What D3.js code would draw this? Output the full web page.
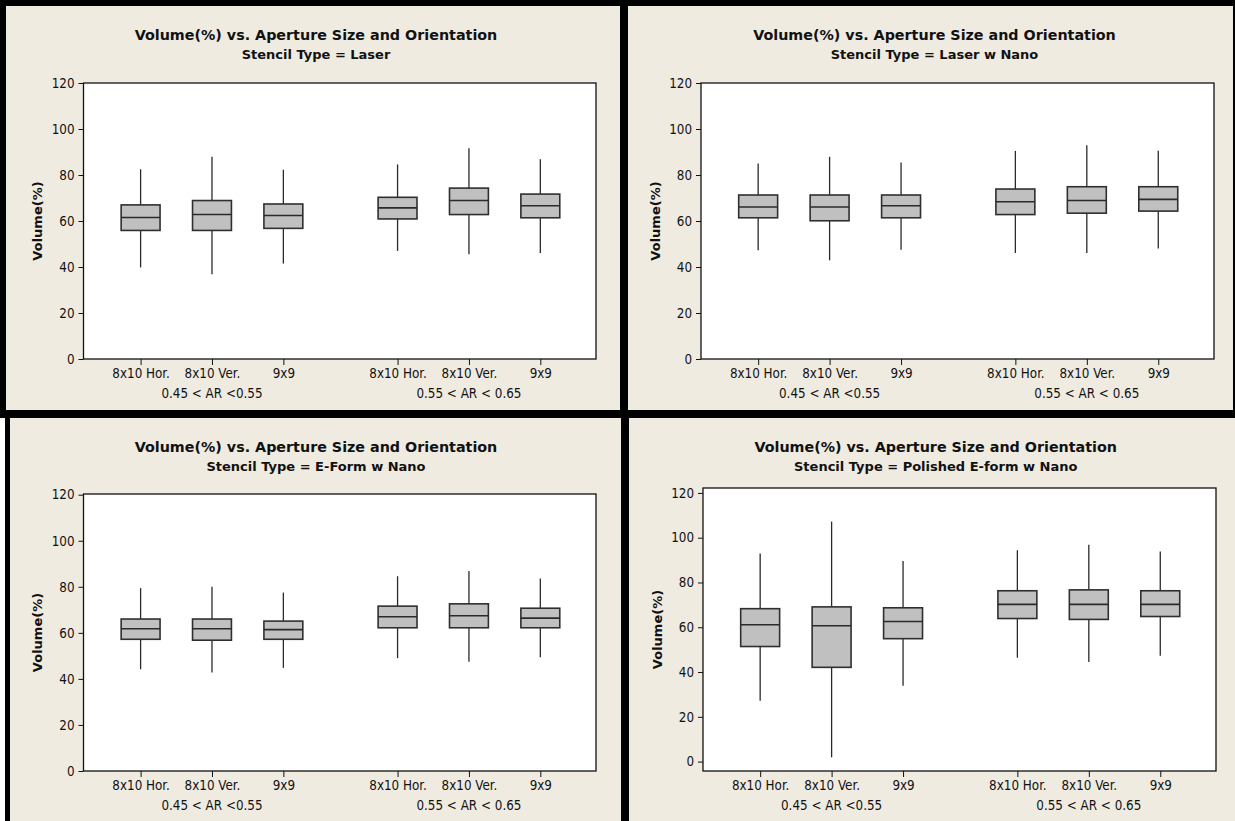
<!DOCTYPE html>
<html>
<head>
<meta charset="utf-8">
<script src="https://cdn.jsdelivr.net/npm/d3@7"></script>
<style>
  html, body { margin: 0; padding: 0; background: #fff; }
  svg { display: block; }
  text { font-family: "DejaVu Sans Condensed", "DejaVu Sans", sans-serif; font-stretch: condensed; fill: #111; }
  text.bold { font-family: "DejaVu Sans", sans-serif; font-stretch: normal; font-weight: bold; }
</style>
</head>
<body>
<div id="chart"></div>
<script>
// data
const stencilTypes = ["Laser", "Laser w Nano", "E-Form w Nano", "Polished E-form w Nano"];
const arGroups = ["0.45 < AR <0.55", "0.55 < AR < 0.65"];
const apertures = ["8x10 Hor.", "8x10 Ver.", "9x9"];
const yTicks = [0, 20, 40, 60, 80, 100, 120];

// one row per stencil type, 6 boxes per row (group 1 then group 2)
const whiskerLow = [
  [39.8, 36.9, 41.5, 47.0, 45.5, 46.1],
  [47.3, 42.9, 47.5, 46.1, 46.1, 48.0],
  [44.2, 42.8, 44.8, 49.0, 47.5, 49.4],
  [27.2, 1.9, 33.9, 46.4, 44.5, 47.3]
];
const quartile1 = [
  [55.9, 55.9, 56.8, 60.9, 62.8, 61.4],
  [61.4, 60.1, 61.4, 62.8, 63.4, 64.3],
  [57.2, 56.8, 57.2, 62.2, 62.2, 62.2],
  [51.4, 42.1, 54.9, 63.9, 63.5, 64.8]
];
const medians = [
  [61.5, 62.8, 62.4, 65.7, 68.9, 66.6],
  [66.1, 66.1, 66.6, 68.4, 68.9, 69.4],
  [61.8, 61.8, 61.4, 67.0, 67.4, 66.4],
  [61.1, 60.7, 62.6, 70.2, 70.2, 70.2]
];
const quartile3 = [
  [67.0, 68.9, 67.4, 70.3, 74.3, 71.7],
  [71.3, 71.3, 71.3, 73.9, 74.9, 74.9],
  [66.0, 66.0, 65.1, 71.6, 72.6, 70.7],
  [68.3, 69.1, 68.7, 76.3, 76.7, 76.3]
];
const whiskerHigh = [
  [82.5, 87.9, 82.3, 84.6, 91.6, 86.9],
  [85.0, 87.9, 85.4, 90.5, 92.9, 90.5],
  [79.4, 80.0, 77.5, 84.6, 86.9, 83.6],
  [92.9, 107.2, 89.6, 94.4, 96.8, 93.8]
];

const W = 1235, H = 821;
const BG = "#efebe1";

// panel layout: beige area, plot rectangle, title centre, y domain
const layout = [
  { bx: 6, by: 6, bw: 614, bh: 404, l: 83.5, t: 83, r: 596, b: 359, tx: 316, yDomain: [0, 120] },
  { bx: 628, by: 6, bw: 605, bh: 404, l: 701, t: 83, r: 1214, b: 359, tx: 934.5, yDomain: [0, 120] },
  { bx: 10, by: 418, bw: 611, bh: 403, l: 83.5, t: 494, r: 596, b: 771, tx: 316, yDomain: [0, 120.3] },
  { bx: 629, by: 418, bw: 606, bh: 403, l: 703, t: 488, r: 1216, b: 771, tx: 935.7, yDomain: [-4.2, 122.2] }
];

const svg = d3.select("#chart").append("svg")
  .attr("width", W)
  .attr("height", H);

// black frame and dividers come from the background
svg.append("rect").attr("width", W).attr("height", H).attr("fill", "#000");
svg.append("rect").attr("x", 0).attr("y", 418).attr("width", 5).attr("height", H - 418).attr("fill", "#fff");

stencilTypes.forEach((stencil, p) => {
  const L = layout[p];
  const g = svg.append("g");

  g.append("rect")
    .attr("x", L.bx).attr("y", L.by)
    .attr("width", L.bw).attr("height", L.bh)
    .attr("fill", BG);

  // titles
  g.append("text")
    .attr("class", "bold")
    .attr("x", L.tx).attr("y", L.by + 34)
    .attr("text-anchor", "middle")
    .attr("font-size", 14.3)
    .text("Volume(%) vs. Aperture Size and Orientation");
  g.append("text")
    .attr("class", "bold")
    .attr("x", L.tx).attr("y", L.by + 53)
    .attr("text-anchor", "middle")
    .attr("font-size", 13)
    .text("Stencil Type = " + stencil);

  // scales
  const y = d3.scaleLinear().domain(L.yDomain).range([L.b, L.t]);
  const x = d3.scaleLinear().domain([-0.8, 6.38]).range([L.l, L.r]);
  const slot = (gi, ai) => gi * 3.6 + ai;
  const boxW = 0.545 * (x(1) - x(0));

  // plot area
  g.append("rect")
    .attr("x", L.l).attr("y", L.t)
    .attr("width", L.r - L.l).attr("height", L.b - L.t)
    .attr("fill", "#fff").attr("stroke", "#111").attr("stroke-width", 1.3);

  // y axis
  const yAxis = g.append("g")
    .attr("transform", `translate(${L.l},0)`)
    .call(d3.axisLeft(y).tickValues(yTicks).tickSize(5).tickPadding(4));
  yAxis.select(".domain").remove();
  yAxis.selectAll("line").attr("stroke", "#111");
  yAxis.selectAll("text").attr("font-size", 13.3).attr("font-family", null).attr("fill", "#111");

  // x axis (categories)
  const cats = [];
  arGroups.forEach((grp, gi) => apertures.forEach((ap, ai) => cats.push({ gi, ai, slot: slot(gi, ai), label: ap })));
  const xAxis = g.append("g")
    .attr("transform", `translate(0,${L.b})`)
    .call(d3.axisBottom(x)
      .tickValues(cats.map(c => c.slot))
      .tickFormat((d, i) => cats[i].label)
      .tickSize(6).tickPadding(3.5));
  xAxis.select(".domain").remove();
  xAxis.selectAll("line").attr("stroke", "#111");
  xAxis.selectAll("text").attr("font-size", 13.3).attr("font-family", null).attr("fill", "#111");

  // group labels
  arGroups.forEach((grp, gi) => {
    g.append("text")
      .attr("x", x(slot(gi, 1))).attr("y", L.b + 38.8)
      .attr("text-anchor", "middle")
      .attr("font-size", 13.3)
      .text(grp);
  });

  // y label
  g.append("text")
    .attr("class", "bold")
    .attr("transform", `translate(${L.l - 46},${(L.t + L.b) / 2}) rotate(-90)`)
    .attr("text-anchor", "middle")
    .attr("dominant-baseline", "central")
    .attr("font-size", 13)
    .text("Volume(%)");

  // boxes
  const boxes = cats.map((c, i) => ({
    x: x(c.slot),
    lo: whiskerLow[p][i], q1: quartile1[p][i], med: medians[p][i],
    q3: quartile3[p][i], hi: whiskerHigh[p][i]
  }));

  const bg = g.selectAll(".box").data(boxes).enter().append("g").attr("class", "box");

  bg.append("line")
    .attr("x1", d => d.x).attr("x2", d => d.x)
    .attr("y1", d => y(d.hi)).attr("y2", d => y(d.q3))
    .attr("stroke", "#2a2a2a").attr("stroke-width", 1.3);
  bg.append("line")
    .attr("x1", d => d.x).attr("x2", d => d.x)
    .attr("y1", d => y(d.q1)).attr("y2", d => y(d.lo))
    .attr("stroke", "#2a2a2a").attr("stroke-width", 1.3);
  bg.append("rect")
    .attr("x", d => d.x - boxW / 2).attr("width", boxW)
    .attr("y", d => y(d.q3)).attr("height", d => y(d.q1) - y(d.q3))
    .attr("fill", "#c0c0c0").attr("stroke", "#2f2f2f").attr("stroke-width", 1.6);
  bg.append("line")
    .attr("x1", d => d.x - boxW / 2).attr("x2", d => d.x + boxW / 2)
    .attr("y1", d => y(d.med)).attr("y2", d => y(d.med))
    .attr("stroke", "#2a2a2a").attr("stroke-width", 1.6);
});
</script>
</body>
</html>
